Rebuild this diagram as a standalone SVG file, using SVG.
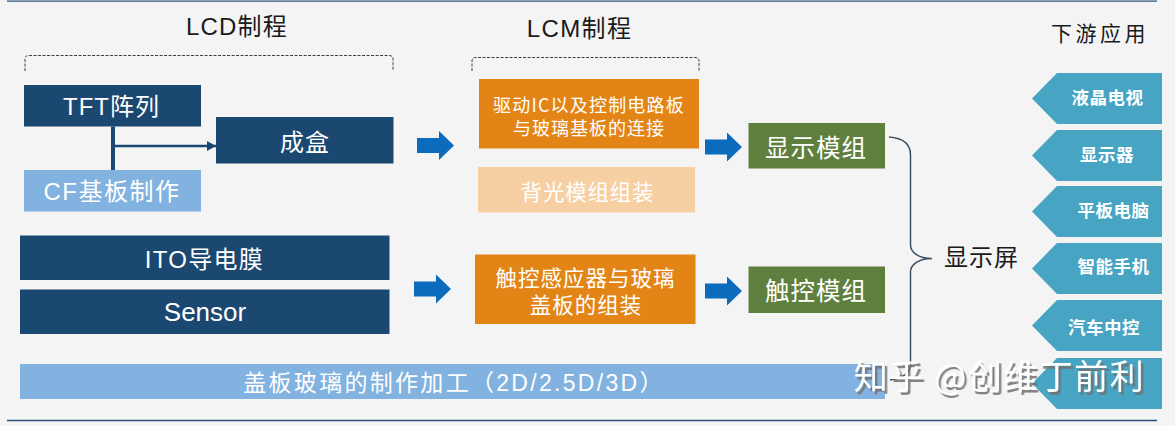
<svg xmlns="http://www.w3.org/2000/svg" width="1175" height="426" viewBox="0 0 1175 426">
<style>
text{font-family:"Noto Sans CJK SC","Liberation Sans",sans-serif;text-anchor:middle}
.lat{font-family:"Liberation Sans","Noto Sans CJK SC",sans-serif}
.w{fill:#fff}
.chx{fill:#fff;font-weight:700;font-size:17.500px;letter-spacing:.5px}
.navy{fill:#1b4870}.lb{fill:#82b2e0}.or{fill:#e38516}.pe{fill:#f6cfa3}.gr{fill:#5f7f3e}.ch{fill:#47a4c2}
.blk{fill:#1a1a1a}
.dash{fill:none;stroke:#33404d;stroke-width:1;stroke-dasharray:3 1.5}
.blue{fill:#0b6cbd}
</style>
<defs>
<marker id="ah" markerUnits="userSpaceOnUse" markerWidth="10" markerHeight="10" refX="9" refY="5" orient="auto"><path d="M0 0L9 5L0 10Z" fill="#1b4870"/></marker>
<path id="chev" class="ch" d="M1057 0H1162V51H1057L1032 25.500Z"/>
<path id="ar" class="blue" d="M0 -7.500H22V-14.500L37 0L22 14.500V7.500H0Z"/>
<filter id="wm" x="-5%" y="-20%" width="110%" height="140%"><feDropShadow dx="2.500" dy="3" stdDeviation=".4" flood-color="#6f7072" flood-opacity=".85"/></filter>
</defs>
<rect width="1175" height="426" fill="#f4f4f5"/>
<path d="M7 1.200H1157" stroke="#2f4f78" stroke-width="1.300"/>
<path d="M7 420.500H1157" stroke="#2f4f78" stroke-width="1.300"/>

<g id="title-lcd"><text class="lat blk" x="237" y="35" font-size="24" letter-spacing="1.200">LCD制程</text><path class="dash" d="M25 71V59Q25 55.500 29 55.500H389Q393 55.500 393 59V71"/></g>
<g id="title-lcm"><text class="lat blk" x="579.500" y="37" font-size="24" letter-spacing="1.400">LCM制程</text><path class="dash" d="M472 71V61Q472 57.500 476 57.500H695Q699 57.500 699 61V71"/></g>
<g id="title-app"><text class="blk" x="1100" y="41" font-size="21" letter-spacing="3.500">下游应用</text></g>

<g id="tft"><rect class="navy" x="24" y="85" width="177" height="41.500"/><text class="lat w" x="111.500" y="115" font-size="24" letter-spacing="1">TFT阵列</text></g>
<g id="cf"><rect class="lb" x="24" y="170" width="177" height="41.500"/><text class="lat w" x="112" y="200" font-size="24" letter-spacing="1.500">CF基板制作</text></g>
<g id="chenghe"><rect class="navy" x="216" y="117" width="177.500" height="46.500"/><text class="w" x="305" y="151" font-size="24" letter-spacing="1">成盒</text></g>
<g id="ito"><rect class="navy" x="20" y="235.500" width="369.500" height="44.500"/><text class="lat w" x="204.500" y="268" font-size="24" letter-spacing="1.300">ITO导电膜</text></g>
<g id="sensor"><rect class="navy" x="20" y="289.500" width="369.500" height="44.500"/><text class="lat w" x="205" y="321" font-size="26">Sensor</text></g>
<g id="cover"><rect class="lb" x="20" y="364" width="865" height="35"/><text class="lat w" x="454" y="391" font-size="23" letter-spacing="2.300">盖板玻璃的制作加工（2D/2.5D/3D）</text></g>

<g id="drive"><rect class="or" x="479" y="79" width="220" height="69.500"/><text class="w" x="589" y="112" font-size="18" letter-spacing="1.200">驱动IC以及控制电路板</text><text class="w" x="589" y="135" font-size="18" letter-spacing="1">与玻璃基板的连接</text></g>
<g id="backlight"><rect class="pe" x="478" y="167" width="217" height="45.500"/><text class="w" x="587.500" y="200" font-size="21.500" letter-spacing=".8">背光模组组装</text></g>
<g id="touch-assy"><rect class="or" x="475" y="254.500" width="220.500" height="69.500"/><text class="w" x="585.500" y="286" font-size="21.500" letter-spacing="1">触控感应器与玻璃</text><text class="w" x="586" y="313" font-size="21.500" letter-spacing="1">盖板的组装</text></g>
<g id="display-mod"><rect class="gr" x="748.500" y="123" width="136.500" height="45.500"/><text class="w" x="816" y="157" font-size="24.500" letter-spacing="1">显示模组</text></g>
<g id="touch-mod"><rect class="gr" x="748.500" y="266.500" width="136.500" height="46.500"/><text class="w" x="816" y="300" font-size="24.500" letter-spacing="1">触控模组</text></g>
<g id="screen"><text class="blk" x="981.500" y="266" font-size="24" letter-spacing="1">显示屏</text></g>

<g id="app-tv"><use href="#chev" y="73"/><text class="chx" x="1107.500" y="104">液晶电视</text></g>
<g id="app-monitor"><use href="#chev" y="130"/><text class="chx" x="1107" y="161">显示器</text></g>
<g id="app-tablet"><use href="#chev" y="186"/><text class="chx" x="1113.500" y="217">平板电脑</text></g>
<g id="app-phone"><use href="#chev" y="243"/><text class="chx" x="1113.500" y="273">智能手机</text></g>
<g id="app-car"><use href="#chev" y="300"/><text class="chx" x="1104" y="334">汽车中控</text></g>
<g id="app-other"><use href="#chev" y="358"/></g>

<g id="connectors">
<path d="M113 126.500V170" stroke="#1b4870" stroke-width="4" fill="none"/>
<path d="M115 146H216" stroke="#1b4870" stroke-width="2.500" fill="none" marker-end="url(#ah)"/>
<use href="#ar" transform="translate(417 145.500)"/>
<use href="#ar" transform="translate(705 147)"/>
<use href="#ar" transform="translate(414 289)"/>
<use href="#ar" transform="translate(705 291)"/>
<path d="M889 137C903 138 910.500 144 910.500 155V245C910.500 252 918 258.500 932 258.500C918 258.500 910.500 265 910.500 272V364C910.500 372 905 378 890 380" stroke="#3a4f66" stroke-width="1.500" fill="none"/>
</g>

<g id="watermark"><text x="999.500" y="389" font-size="34" letter-spacing="1.500" fill="#fff" filter="url(#wm)">知乎 @创维丁前利</text></g>
</svg>
